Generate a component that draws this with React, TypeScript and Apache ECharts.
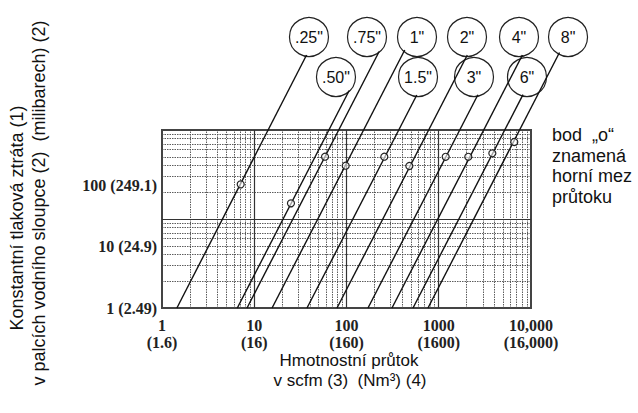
import React, { useEffect, useRef } from 'react';
import * as echarts from 'echarts';

// Pipe sizes (nominal diameter)
const sizes = ['.25"', '.50"', '.75"', '1"', '1.5"', '2"', '3"', '4"', '6"', '8"'];
// Flow (scfm) where each line meets the bottom edge (pressure drop = 1)
const flowAtUnitDrop = [1.45, 6.55, 8.35, 15.6, 37.3, 78.9, 171, 311, 526, 764];
// Leader end (where each line reaches its size label)
const leaderEndFlow = [36.9, 107, 226, 428, 578, 2039, 2657, 8070, 8190, 20370];
const leaderEndDrop = [696, 278, 762, 792, 247, 696, 249, 696, 250, 743];
// "o" points = upper flow limit
const limitFlow = [7.13, 25.0, 58.5, 98, 257, 480, 1189, 2091, 3810, 6590];
const limitDrop = [24.5, 15.0, 50.1, 39.7, 50.1, 39.4, 50, 50, 54.7, 73.3];
// Size label circles
const labelFlow = [39.2, 76.9, 166.8, 581, 596, 2024, 2410, 7413, 9050, 25200];
const labelDrop = [1109, 394, 1109, 1109, 394, 1109, 394, 1109, 394, 1109];

const xTicks = [1, 10, 100, 1000, 10000];
const xTickLabels = ['1\n(1.6)', '10\n(16)', '100\n(160)', '1000\n(1600)', '10,000\n(16,000)'];
const yTicks = [1, 10, 100];
const yTickLabels = ['1 (2.49)', '10 (24.9)', '100 (249.1)'];
const gridSteps = [1, 2, 3, 4, 5, 6, 7, 8, 9];
const xDecades = [1, 10, 100, 1000];
const yDecades = [1, 10];

const SANS = '"Liberation Sans", Arial, sans-serif';
const SERIF = '"Liberation Serif", "Times New Roman", serif';

function matchTick(v: number, ticks: number[], labels: string[]) {
  for (let i = 0; i < ticks.length; i++) {
    if (Math.abs(v - ticks[i]) / ticks[i] < 1e-6) return labels[i];
  }
  return '';
}

export default function App() {
  const ref = useRef<HTMLDivElement>(null);
  useEffect(() => {
    if (!ref.current) return;
    const chart = echarts.init(ref.current, undefined, { renderer: 'svg' });

    const majorStyle = { color: '#333', width: 1.2, type: 'solid' as const };
    const minorStyle = { color: '#4a4a4a', width: 0.9, type: [1.5, 1] as number[] };
    const gridLines: any[] = [];
    xDecades.forEach((d) =>
      gridSteps.forEach((s) => {
        if (s === 1 && d === 1) return;
        gridLines.push({ xAxis: s * d, lineStyle: s === 1 ? majorStyle : minorStyle });
      })
    );
    yDecades.forEach((d) =>
      gridSteps.forEach((s) => {
        if (s === 1 && d === 1) return;
        gridLines.push({ yAxis: s * d, lineStyle: s === 1 ? majorStyle : minorStyle });
      })
    );

    chart.setOption({
      animation: false,
      backgroundColor: '#fff',
      grid: {
        left: 162,
        right: 107,
        top: 130,
        bottom: 105,
        show: true,
        borderColor: '#444',
        borderWidth: 2,
        backgroundColor: 'transparent',
      },
      xAxis: {
        type: 'log',
        logBase: 10,
        min: 1,
        max: 10000,
        axisLine: { show: false },
        axisTick: { show: false },
        splitLine: { show: false },
        axisLabel: {
          formatter: (v: number) => matchTick(v, xTicks, xTickLabels),
          fontFamily: SERIF,
          fontWeight: 'bold',
          fontSize: 16,
          lineHeight: 17,
          color: '#222',
          margin: 9,
          showMaxLabel: true,
          showMinLabel: true,
        },
      },
      yAxis: [
        {
          type: 'log',
          logBase: 10,
          min: 1,
          max: 100,
          position: 'left',
          axisLine: { show: false },
          axisTick: { show: false },
          splitLine: { show: false },
          axisLabel: { show: false },
        },
        {
          type: 'log',
          logBase: 10,
          min: 1,
          max: 828,
          position: 'left',
          axisLine: { show: false },
          axisTick: { show: false },
          splitLine: { show: false },
          axisLabel: {
            formatter: (v: number) => matchTick(v, yTicks, yTickLabels),
            fontFamily: SERIF,
            fontWeight: 'bold',
            fontSize: 16,
            color: '#222',
            margin: 5,
            showMaxLabel: false,
          },
        },
      ],
      series: [
        {
          type: 'line',
          xAxisIndex: 0,
          yAxisIndex: 0,
          data: [[1, 1]],
          showSymbol: false,
          symbol: 'none',
          lineStyle: { width: 0 },
          silent: true,
          z: 1,
          markLine: {
            silent: true,
            symbol: ['none', 'none'],
            label: { show: false },
            animation: false,
            data: gridLines,
          },
        },
        {
          type: 'scatter',
          xAxisIndex: 0,
          yAxisIndex: 0,
          clip: false,
          silent: true,
          z: 5,
          symbol: 'circle',
          symbolSize: 39,
          itemStyle: { color: '#fff', borderColor: '#222', borderWidth: 1.2, opacity: 1 },
          label: {
            show: true,
            position: 'inside',
            formatter: (p: any) => sizes[p.dataIndex],
            fontFamily: SANS,
            fontSize: 16,
            color: '#111',
          },
          data: labelFlow.map((q, i) => [q, labelDrop[i]]),
        },
        {
          type: 'lines',
          coordinateSystem: 'cartesian2d',
          xAxisIndex: 0,
          yAxisIndex: 0,
          clip: false,
          silent: true,
          z: 6,
          polyline: false,
          lineStyle: { color: '#111', width: 1.4, opacity: 1, curveness: 0 },
          data: sizes.map((name, i) => ({
            name,
            coords: [
              [flowAtUnitDrop[i], 1],
              [leaderEndFlow[i], leaderEndDrop[i]],
            ],
          })),
        },
        {
          type: 'scatter',
          xAxisIndex: 0,
          yAxisIndex: 0,
          clip: false,
          silent: true,
          z: 7,
          symbol: 'circle',
          symbolSize: 7,
          itemStyle: { color: 'rgba(255,255,255,0.6)', borderColor: '#222', borderWidth: 1.2, opacity: 1 },
          data: limitFlow.map((q, i) => [q, limitDrop[i]]),
        },
      ],
      graphic: [
        {
          type: 'text',
          x: 17,
          y: 218,
          rotation: Math.PI / 2,
          style: {
            text: 'Konstantní tlaková ztráta (1)',
            font: `18px ${SANS}`,
            fill: '#111',
            align: 'center',
            verticalAlign: 'middle',
          },
        },
        {
          type: 'text',
          x: 39,
          y: 203,
          rotation: Math.PI / 2,
          style: {
            text: 'v palcích vodního sloupce (2)  (milibarech) (2)',
            font: `18px ${SANS}`,
            fill: '#111',
            align: 'center',
            verticalAlign: 'middle',
          },
        },
        {
          type: 'text',
          x: 349,
          y: 360,
          style: {
            text: 'Hmotnostní průtok',
            font: `17px ${SANS}`,
            fill: '#111',
            align: 'center',
            verticalAlign: 'middle',
          },
        },
        {
          type: 'text',
          x: 350,
          y: 380,
          style: {
            text: 'v scfm (3)  (Nm³) (4)',
            font: `17px ${SANS}`,
            fill: '#111',
            align: 'center',
            verticalAlign: 'middle',
          },
        },
        {
          type: 'text',
          x: 552,
          y: 125,
          style: {
            text: 'bod  „o“\nznamená\nhorní mez\nprůtoku',
            font: `18px ${SANS}`,
            lineHeight: 20.5,
            fill: '#111',
            align: 'left',
            verticalAlign: 'top',
          },
        },
      ],
    });
    return () => chart.dispose();
  }, []);
  return <div ref={ref} style={{ width: 638, height: 413, position: 'absolute', left: 0, top: 0 }} />;
}
